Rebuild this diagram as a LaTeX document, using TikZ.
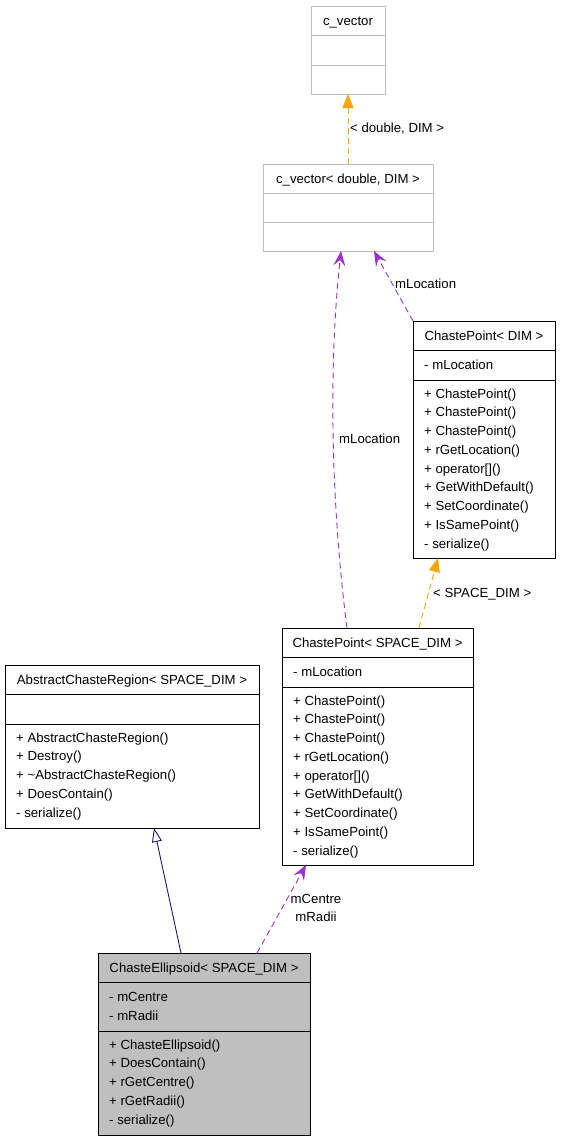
\documentclass[tikz,border=0pt]{standalone}
\usepackage{fontspec}
\setmainfont{Liberation Sans}
\usetikzlibrary{arrows.meta,calc}
\definecolor{boxgray}{HTML}{BFBFBF}
\definecolor{purplerel}{HTML}{9A32CD}
\definecolor{orangerel}{HTML}{FFA500}
\definecolor{navyrel}{HTML}{191970}
\newcommand\umlfont{\fontsize{13.2}{18}\selectfont}
\tikzset{
  classbox/.style={draw=black, line width=1pt, inner sep=0pt, outer sep=0pt, anchor=north west},
  sepline/.style={draw=black, line width=1pt},
  membertext/.style={font=\umlfont, inner sep=0pt, anchor=base west},
  titletext/.style={font=\umlfont, inner sep=0pt, anchor=base},
  labeltext/.style={font=\umlfont, inner sep=0pt, anchor=base west},
  usesrel/.style={draw=purplerel, line width=0.9pt, dash pattern=on 6pt off 4pt, -{Stealth[length=15pt,width=12pt,inset=6pt,fill=purplerel]}},
  templrel/.style={draw=orangerel, line width=0.9pt, dash pattern=on 6pt off 4pt, -{Triangle[length=14pt,width=11pt,fill=orangerel]}},
  inhrel/.style={draw=navyrel, line width=0.9pt, -{Triangle[open,length=14pt,width=10pt,fill=white]}}
}
% #1 name, #2 x1, #3 y1, #4 x2, #5 y2, #6 line1 y, #7 line2 y, #8 extra style
\newcommand\classbox[8]{%
  \node[classbox,#8,minimum width={(#4-#2)*1pt},minimum height={(#5-#3)*1pt}] (#1) at (#2,#3) {};
  \draw[sepline,#8,fill=none] (#2,#6) -- (#4,#6);
  \draw[sepline,#8,fill=none] (#2,#7) -- (#4,#7);
}
\begin{document}
\begin{tikzpicture}[x=1pt,y=-1pt]
\useasboundingbox (0,0) rectangle (560,1141);
\fill[white] (0,0) rectangle (560,1141);

% c_vector
\classbox{cv}{311}{6}{385}{94}{35}{65}{draw=boxgray}
\node[titletext] (cvt) at (348,25) {c\_vector};

% c_vector< double, DIM >
\classbox{cvd}{263}{164}{433}{251}{193}{222}{draw=boxgray}
\node[titletext] (cvdt) at (348,183) {c\_vector< double, DIM >};

% ChastePoint< DIM >
\classbox{cpd}{413}{321}{555}{558}{350}{380}{}
\node[titletext] (cpdt) at (484,340) {ChastePoint< DIM >};
\node[membertext] (cpda) at (424,369) {- mLocation};
\foreach \t [count=\i from 0] in {{+ ChastePoint()},{+ ChastePoint()},{+ ChastePoint()},{+ rGetLocation()},{+ operator[]()},{+ GetWithDefault()},{+ SetCoordinate()},{+ IsSamePoint()},{- serialize()}}
  \node[membertext] (cpdm\i) at (424,398+\i*18.75) {\t};

% ChastePoint< SPACE_DIM >
\classbox{cpsd}{282}{628}{473}{865}{657}{687}{}
\node[titletext] (cpsdt) at (377.5,647) {ChastePoint< SPACE\_DIM >};
\node[membertext] (cpsda) at (293,676) {- mLocation};
\foreach \t [count=\i from 0] in {{+ ChastePoint()},{+ ChastePoint()},{+ ChastePoint()},{+ rGetLocation()},{+ operator[]()},{+ GetWithDefault()},{+ SetCoordinate()},{+ IsSamePoint()},{- serialize()}}
  \node[membertext] (cpsdm\i) at (293,705+\i*18.75) {\t};

% AbstractChasteRegion< SPACE_DIM >
\classbox{acr}{5}{665}{259}{828}{694}{724}{}
\node[titletext] (acrt) at (132,684) {AbstractChasteRegion< SPACE\_DIM >};
\foreach \t [count=\i from 0] in {{+ AbstractChasteRegion()},{+ Destroy()},{+ \textasciitilde AbstractChasteRegion()},{+ DoesContain()},{- serialize()}}
  \node[membertext] (acrm\i) at (16,742+\i*18.75) {\t};

% ChasteEllipsoid< SPACE_DIM >
\classbox{ce}{98}{953}{310}{1135}{982}{1031}{fill=boxgray}
\node[titletext] (cet) at (204,972) {ChasteEllipsoid< SPACE\_DIM >};
\node[membertext] (cea0) at (109,1001) {- mCentre};
\node[membertext] (cea1) at (109,1020) {- mRadii};
\foreach \t [count=\i from 0] in {{+ ChasteEllipsoid()},{+ DoesContain()},{+ rGetCentre()},{+ rGetRadii()},{- serialize()}}
  \node[membertext] (cem\i) at (109,1049+\i*18.75) {\t};

% connectors
\draw[templrel] (cvd.north) -- (cv.south);
\node[labeltext] (l1) at (350,132) {< double, DIM >};

\draw[usesrel] (cpd.north west) -- ($(cvd.south west)+(111,0)$);
\node[labeltext] (l2) at (395,288) {mLocation};

\draw[usesrel] ($(cpsd.north west)+(65,0)$) .. controls (333,520) and (327,380) .. ($(cvd.south west)+(78,0)$);
\node[labeltext] (l3) at (339,443) {mLocation};

\draw[templrel] ($(cpsd.north west)+(137,0)$) -- ($(cpd.south west)+(25,0)$);
\node[labeltext] (l4) at (433,597) {< SPACE\_DIM >};

\draw[inhrel] ($(ce.north west)+(83,0)$) -- ($(acr.south west)+(149,0)$);

\draw[usesrel] ($(ce.north west)+(159,0)$) -- ($(cpsd.south west)+(24,0)$);
\node[font=\umlfont, inner sep=0pt, align=center, anchor=base] (l5) at (316,921) {mCentre\\mRadii};
\end{tikzpicture}
\end{document}
